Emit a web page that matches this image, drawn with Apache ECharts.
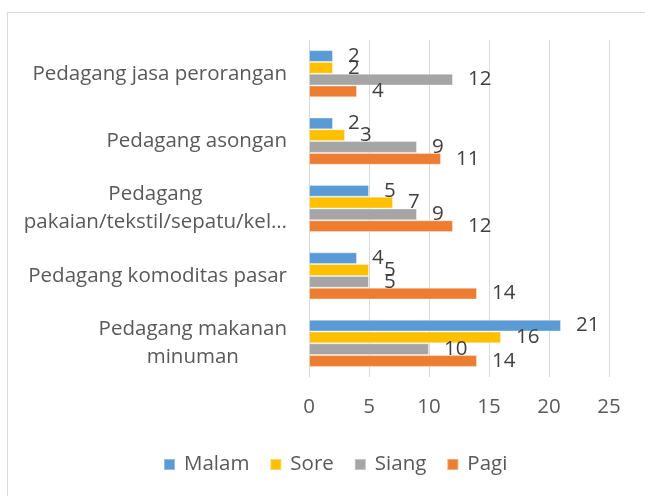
<!DOCTYPE html>
<html><head><meta charset="utf-8">
<script src="https://cdn.jsdelivr.net/npm/echarts@6/dist/echarts.min.js"></script>
<style>html,body{margin:0;padding:0;background:#fff}#c{width:645px;height:496px}</style>
</head><body><div id="c"></div>
<script>
const categories = ["Pedagang makanan\nminuman", "Pedagang komoditas pasar", "Pedagang\npakaian/tekstil/sepatu/kel…", "Pedagang asongan", "Pedagang jasa perorangan"];
const malam = [21, 4, 5, 2, 2];
const sore = [16, 5, 7, 3, 2];
const siang = [10, 5, 9, 9, 12];
const pagi = [14, 14, 12, 11, 4];
const xTicks = [0, 5, 10, 15, 20, 25];

const FONT = 'Open Sans';
const FS = 20.5;
const chart = echarts.init(document.getElementById('c'), null, {renderer: 'canvas'});
function mk(name, data, color) {
  return {
    name, type: 'bar', data,
    barGap: '0%', barCategoryGap: '30%',
    itemStyle: {color, borderColor: 'rgba(255,255,255,0.35)', borderWidth: 1},
    label: {show: true, position: 'right', distance: 15, color: '#404040', fontFamily: FONT, fontSize: FS},
    emphasis: {disabled: true}
  };
}
chart.setOption({
  animation: false,
  graphic: [{type: 'rect', shape: {x: 7.5, y: 12.5, width: 700, height: 600}, style: {fill: 'none', stroke: '#d9d9d9', lineWidth: 1}, silent: true}],
  grid: {left: 309, right: 36, top: 40, bottom: 119, containLabel: false},
  xAxis: {
    type: 'value', min: xTicks[0], max: xTicks[xTicks.length - 1], interval: 5,
    axisLine: {show: false}, axisTick: {show: false},
    splitLine: {lineStyle: {color: '#d9d9d9', width: 1}},
    axisLabel: {color: '#595959', fontFamily: FONT, fontSize: FS, margin: 20}
  },
  yAxis: {
    type: 'category', data: categories,
    axisLine: {show: true, lineStyle: {color: '#d9d9d9'}}, axisTick: {show: false},
    axisLabel: {
      color: '#595959', fontFamily: FONT, fontSize: FS, margin: 22, lineHeight: 28,
      formatter: v => v.split('\n').map(s => '{c|' + s + '}').join('\n'),
      rich: {c: {align: 'center', color: '#595959', fontFamily: FONT, fontSize: FS, lineHeight: 28}}
    }
  },
  legend: {
    data: ['Malam', 'Sore', 'Siang', 'Pagi'], top: 449, left: 158,
    itemWidth: 11, itemHeight: 11, itemGap: 20, icon: 'rect',
    textStyle: {color: '#595959', fontFamily: FONT, fontSize: FS, padding: [0, 0, 0, 4]}
  },
  series: [mk('Malam', malam, '#5B9BD5'), mk('Sore', sore, '#FFC000'), mk('Siang', siang, '#A5A5A5'), mk('Pagi', pagi, '#ED7D31')]
});
</script></body></html>
